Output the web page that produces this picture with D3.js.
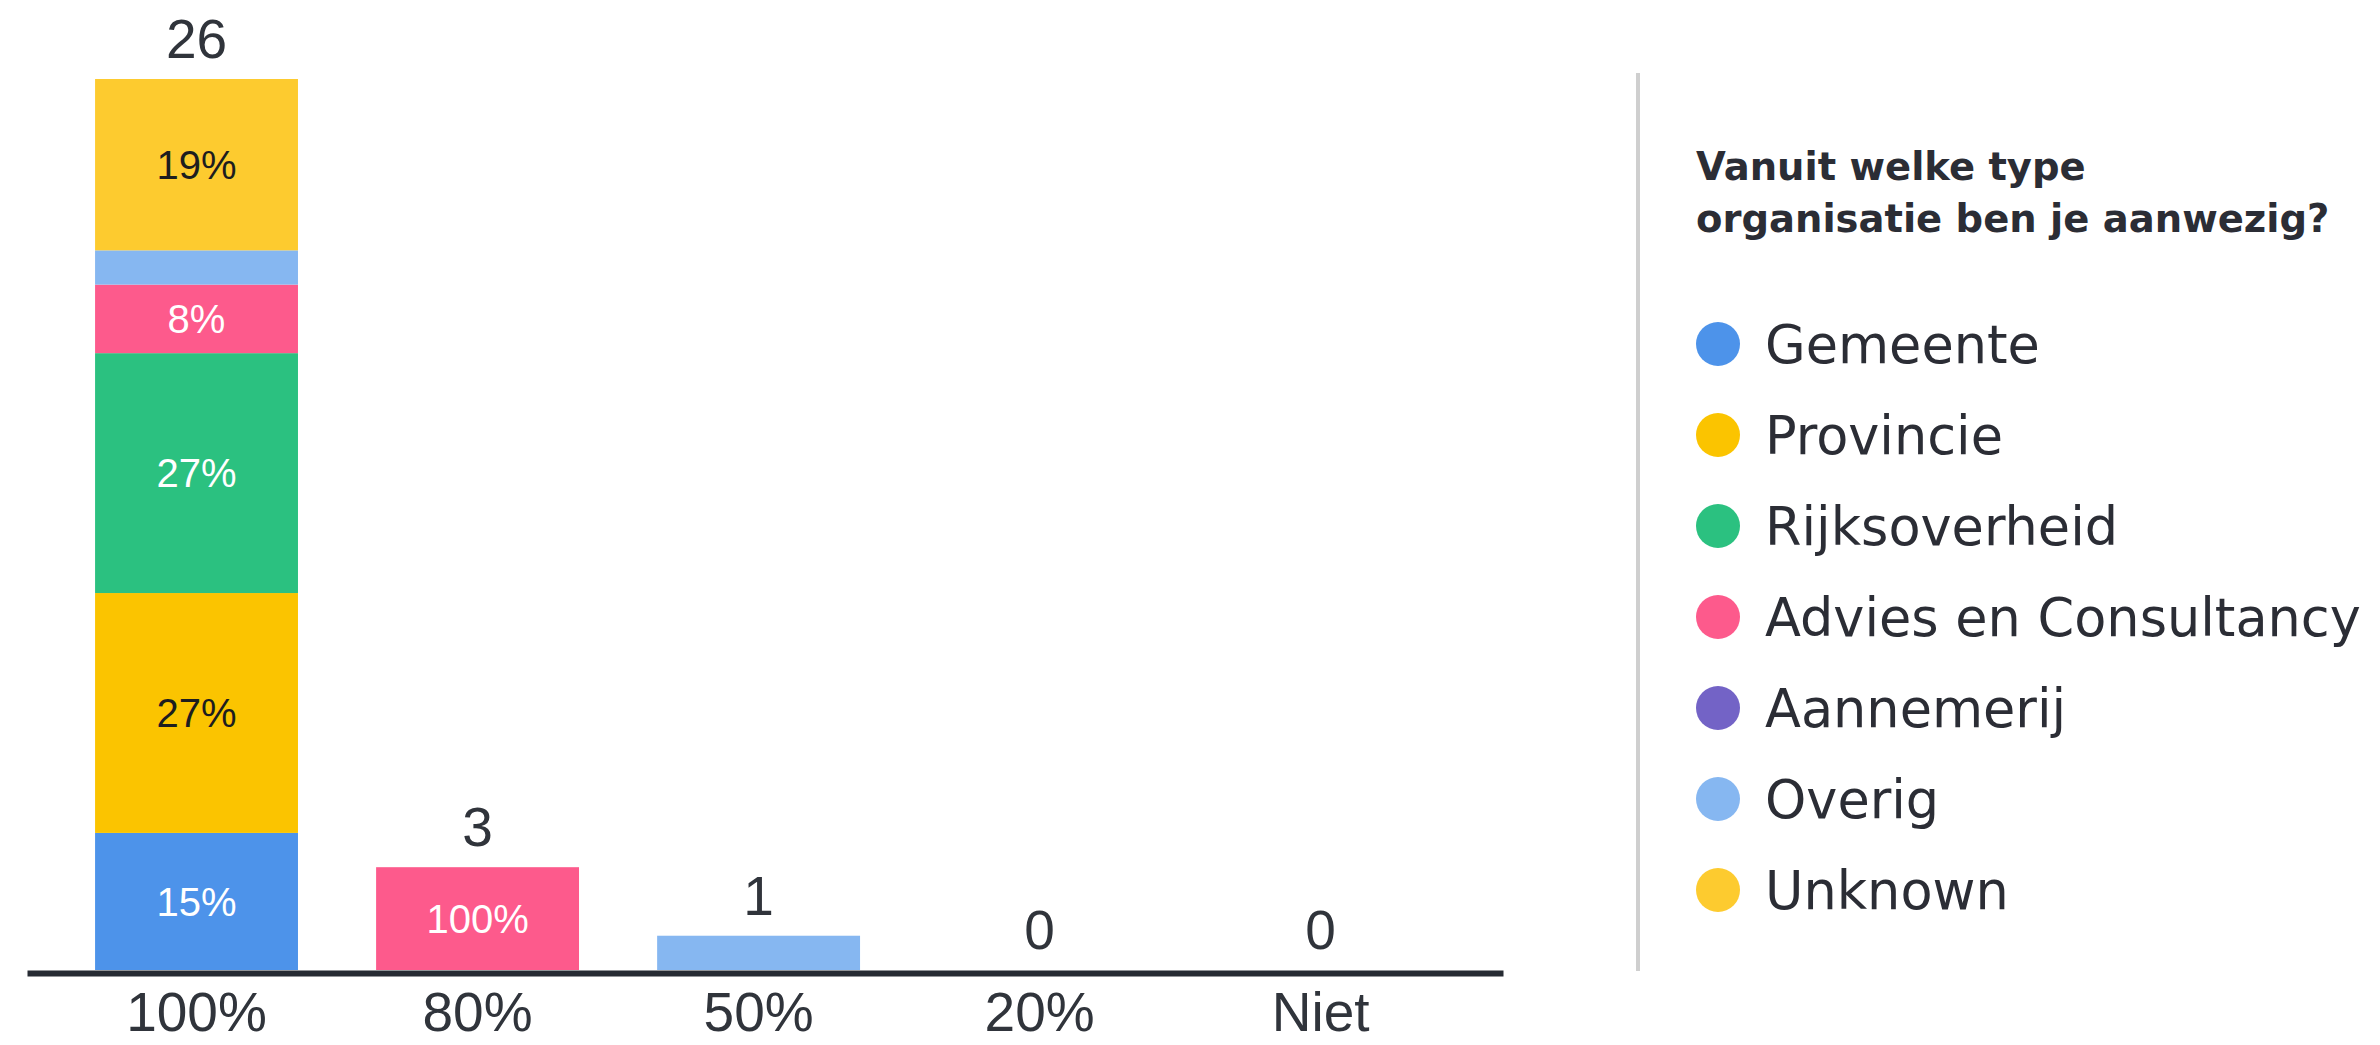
<!DOCTYPE html>
<html>
<head>
<meta charset="utf-8">
<script src="https://cdn.jsdelivr.net/npm/d3@7"></script>
<style>
  html, body { margin: 0; padding: 0; background: #fff; }
  svg { display: block; }
</style>
</head>
<body>
<div id="chart"></div>
<script>
// data
var categories = ["100%", "80%", "50%", "20%", "Niet"];
var groups = ["Gemeente", "Provincie", "Rijksoverheid", "Advies en Consultancy", "Aannemerij", "Overig", "Unknown"];
var groupColors = ["#4d93ea", "#fbc400", "#2bc180", "#fd5a8c", "#7363c6", "#86b7f1", "#fdcb2f"];
var darkLabel = ["Provincie", "Unknown"];

var gemeente      = [4, 0, 0, 0, 0];
var provincie     = [7, 0, 0, 0, 0];
var rijksoverheid = [7, 0, 0, 0, 0];
var advies        = [2, 3, 0, 0, 0];
var aannemerij    = [0, 0, 0, 0, 0];
var overig        = [1, 0, 1, 0, 0];
var unknown       = [5, 0, 0, 0, 0];

var legendTitle = ["Vanuit welke type", "organisatie ben je aanwezig?"];

var series = [gemeente, provincie, rijksoverheid, advies, aannemerij, overig, unknown];
var rows = categories.map(function(c, i) {
  var r = { cat: c };
  groups.forEach(function(g, j) { r[g] = series[j][i]; });
  return r;
});
var totals = rows.map(function(r) { return d3.sum(groups, function(g) { return r[g]; }); });

var W = 2380, H = 1045;
var svg = d3.select("#chart").append("svg").attr("width", W).attr("height", H);

var x = d3.scaleBand().domain(categories).range([27, 1503])
  .paddingInner(0.278).paddingOuter(0.265).align(0.457);
var y = d3.scaleLinear().domain([0, 26]).range([970, 79]);
var color = d3.scaleOrdinal().domain(groups).range(groupColors);

var stacked = d3.stack().keys(groups)(rows);

var layers = svg.append("g").selectAll("g").data(stacked).enter().append("g")
  .attr("fill", function(d) { return color(d.key); });

layers.selectAll("rect").data(function(d) { return d; }).enter()
  .filter(function(d) { return d[1] > d[0]; })
  .append("rect")
  .attr("x", function(d) { return x(d.data.cat); })
  .attr("width", x.bandwidth())
  .attr("y", function(d) { return y(d[1]); })
  .attr("height", function(d) { return y(d[0]) - y(d[1]); });

// percent labels inside segments big enough
stacked.forEach(function(layer) {
  layer.forEach(function(d, i) {
    var h = y(d[0]) - y(d[1]);
    if (h < 50) return;
    svg.append("text")
      .attr("x", x(d.data.cat) + x.bandwidth() / 2)
      .attr("y", (y(d[0]) + y(d[1])) / 2)
      .attr("dy", "0.36em")
      .attr("text-anchor", "middle")
      .attr("style", "font-family:'Liberation Sans',Arial,sans-serif;font-size:40px;fill:" +
        (darkLabel.indexOf(layer.key) >= 0 ? "#1d1d1f" : "#ffffff"))
      .text(d3.format(".0f")((d[1] - d[0]) / totals[i] * 100) + "%");
  });
});

// totals above bars
svg.append("g").selectAll("text").data(rows).enter().append("text")
  .attr("x", function(d) { return x(d.cat) + x.bandwidth() / 2; })
  .attr("y", function(d, i) { return y(totals[i]) - 21; })
  .attr("text-anchor", "middle")
  .attr("style", "font-family:'Liberation Sans',Arial,sans-serif;font-size:55px;fill:#30343b")
  .text(function(d, i) { return totals[i]; });

// axis
var xAxis = svg.append("g").attr("transform", "translate(0,973)")
  .call(d3.axisBottom(x).tickSize(0).tickPadding(19));
xAxis.select(".domain").attr("stroke", "#262b33").attr("stroke-width", 6);
xAxis.selectAll("text")
  .attr("style", "font-family:'Liberation Sans',Arial,sans-serif;font-size:55px;fill:#30343b");

// divider
svg.append("line")
  .attr("x1", 1638).attr("x2", 1638).attr("y1", 73).attr("y2", 971)
  .attr("stroke", "#cfcfcf").attr("stroke-width", 4);

// legend
var legend = svg.append("g").attr("transform", "translate(1696,0)");
legend.selectAll("text.title").data(legendTitle).enter().append("text")
  .attr("class", "title")
  .attr("x", 0)
  .attr("y", function(d, i) { return 180 + i * 52; })
  .attr("style", "font-family:'DejaVu Sans',sans-serif;font-weight:bold;font-size:38.5px;fill:#2b2d35")
  .text(function(d) { return d; });

var items = legend.selectAll("g.item").data(groups).enter().append("g")
  .attr("class", "item")
  .attr("transform", function(d, i) { return "translate(0," + (344 + i * 91) + ")"; });
items.append("circle").attr("cx", 22).attr("cy", 0).attr("r", 22)
  .attr("fill", function(d) { return color(d); });
items.append("text").attr("x", 69).attr("y", 0).attr("dy", "0.36em")
  .attr("style", "font-family:'DejaVu Sans',sans-serif;font-size:52.5px;fill:#2b2d35")
  .text(function(d) { return d; });
</script>
</body>
</html>
